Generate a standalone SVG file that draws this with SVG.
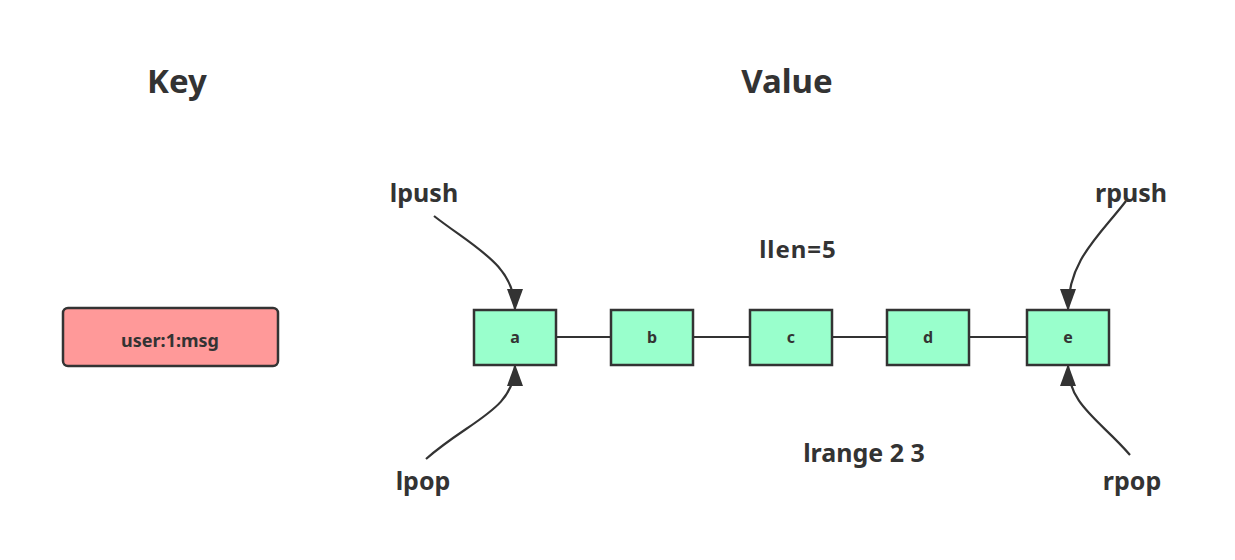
<svg xmlns="http://www.w3.org/2000/svg" width="1235" height="560" viewBox="0 0 1235 560">
<style>
.t{font-family:"Noto Sans","Open Sans","Liberation Sans",sans-serif;font-weight:bold;fill:#333333;text-anchor:middle}
.node{fill:#99FFCC;stroke:#333333;stroke-width:2.5}
.key{fill:#FF9999;stroke:#333333;stroke-width:2.5}
.link{fill:none;stroke:#333333;stroke-width:2}
.arr{fill:none;stroke:#333333;stroke-width:2.2;marker-end:url(#ah)}
</style>
<defs>
<marker id="ah" viewBox="0 0 22 16" refX="21" refY="8" markerWidth="22" markerHeight="16" markerUnits="userSpaceOnUse" orient="auto">
<path d="M0,0 L22,8 L0,16 Z" fill="#333333"/>
</marker>
</defs>
<rect width="1235" height="560" fill="#ffffff"/>
<text class="t" x="177" y="93" font-size="33">Key</text>
<text class="t" x="787" y="93" font-size="33">Value</text>
<text class="t" x="798" y="258" font-size="24" letter-spacing="1">llen=5</text>
<text class="t" x="864" y="462" font-size="25">lrange 2 3</text>
<text class="t" x="424" y="202" font-size="25">lpush</text>
<text class="t" x="423" y="490" font-size="25">lpop</text>
<text class="t" x="1131" y="202" font-size="25">rpush</text>
<text class="t" x="1132" y="490" font-size="25">rpop</text>
<g id="connectors">
<line class="link" x1="556" y1="337" x2="610" y2="337"/>
<line class="link" x1="693" y1="337" x2="749" y2="337"/>
<line class="link" x1="832" y1="337" x2="886" y2="337"/>
<line class="link" x1="969" y1="337" x2="1027" y2="337"/>
<path class="arr" d="M434,216 C475,248 515,265 515,310"/>
<path class="arr" d="M426,459 C470,420 515,410 515,365"/>
<path class="arr" d="M1126,201 C1100,235 1068,260 1068,310"/>
<path class="arr" d="M1130,455 C1100,420 1068,405 1068,365"/>
</g>
<g id="key-node">
<rect class="key" x="63" y="308" width="215" height="58" rx="5"/>
<text class="t" x="170" y="347" font-size="18">user:1:msg</text>
</g>
<g id="node-a">
<rect class="node" x="474" y="310" width="82" height="55"/>
<text class="t" x="515" y="343" font-size="16">a</text>
</g>
<g id="node-b">
<rect class="node" x="611" y="310" width="82" height="55"/>
<text class="t" x="652" y="343" font-size="16">b</text>
</g>
<g id="node-c">
<rect class="node" x="750" y="310" width="82" height="55"/>
<text class="t" x="791" y="343" font-size="16">c</text>
</g>
<g id="node-d">
<rect class="node" x="887" y="310" width="82" height="55"/>
<text class="t" x="928" y="343" font-size="16">d</text>
</g>
<g id="node-e">
<rect class="node" x="1027" y="310" width="82" height="55"/>
<text class="t" x="1068" y="343" font-size="16">e</text>
</g>
</svg>
